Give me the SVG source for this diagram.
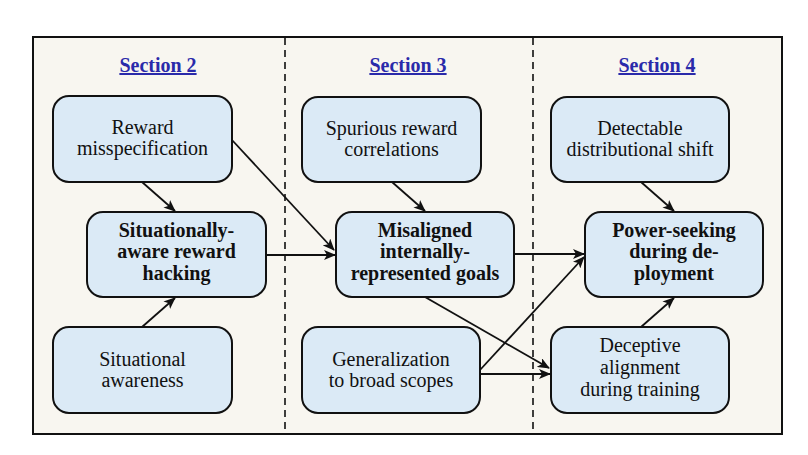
<svg xmlns="http://www.w3.org/2000/svg" width="808" height="455" viewBox="0 0 808 455">
<style>
.node rect{fill:#dbeaf6;stroke:#111;stroke-width:2}
.node text{font-family:"Liberation Serif",Tinos,"Times New Roman",Times,"DejaVu Serif",serif;font-size:20px;fill:#111;text-anchor:middle}
.node.b text{font-weight:bold}
.title{font-family:"Liberation Serif",Tinos,"Times New Roman",Times,"DejaVu Serif",serif;font-size:20px;font-weight:bold;fill:#2a2aaa;text-anchor:middle;text-decoration:underline}
.edge{stroke:#111;stroke-width:1.8;fill:none;marker-end:url(#ah)}
.div{stroke:#111;stroke-width:1.6;stroke-dasharray:7,5}
</style>
<defs>
<marker id="ah" viewBox="0 0 12 10" refX="11" refY="5" markerWidth="12" markerHeight="10" markerUnits="userSpaceOnUse" orient="auto">
<path d="M0,0 L12,5 L0,10 L3,5 Z" fill="#111"/>
</marker>
</defs>
<rect x="0" y="0" width="808" height="455" fill="#fff"/>
<rect x="33" y="37" width="749" height="397" fill="#f8f6f0" stroke="#111" stroke-width="2"/>
<line class="div" x1="285" y1="38" x2="285" y2="433"/>
<line class="div" x1="533" y1="38" x2="533" y2="433"/>
<text class="title" x="158" y="72">Section 2</text>
<text class="title" x="408" y="72">Section 3</text>
<text class="title" x="657" y="72">Section 4</text>

<g id="reward-misspecification" class="node">
<rect x="53" y="96" width="179" height="86" rx="16"/>
<text x="142.5" y="134">Reward</text>
<text x="142.5" y="155">misspecification</text>
</g>
<g id="situationally-aware-reward-hacking" class="node b">
<rect x="87" y="212" width="179" height="85" rx="16"/>
<text x="176.5" y="237">Situationally-</text>
<text x="176.5" y="258">aware reward</text>
<text x="176.5" y="280">hacking</text>
</g>
<g id="situational-awareness" class="node">
<rect x="53" y="327" width="179" height="86" rx="16"/>
<text x="142.5" y="366">Situational</text>
<text x="142.5" y="387">awareness</text>
</g>

<g id="spurious-reward-correlations" class="node">
<rect x="302" y="97" width="179" height="85" rx="16"/>
<text x="391.5" y="135">Spurious reward</text>
<text x="391.5" y="156">correlations</text>
</g>
<g id="misaligned-goals" class="node b">
<rect x="336" y="212" width="178" height="85" rx="16"/>
<text x="425" y="237">Misaligned</text>
<text x="425" y="258">internally-</text>
<text x="425" y="280">represented goals</text>
</g>
<g id="generalization" class="node">
<rect x="302" y="327" width="178" height="86" rx="16"/>
<text x="391" y="366">Generalization</text>
<text x="391" y="387">to broad scopes</text>
</g>

<g id="detectable-distributional-shift" class="node">
<rect x="551" y="97" width="178" height="85" rx="16"/>
<text x="640" y="135">Detectable</text>
<text x="640" y="156">distributional shift</text>
</g>
<g id="power-seeking" class="node b">
<rect x="585" y="212" width="178" height="85" rx="16"/>
<text x="674" y="237">Power-seeking</text>
<text x="674" y="258">during de-</text>
<text x="674" y="280">ployment</text>
</g>
<g id="deceptive-alignment" class="node">
<rect x="551" y="327" width="178" height="86" rx="16"/>
<text x="640" y="352">Deceptive</text>
<text x="640" y="374">alignment</text>
<text x="640" y="396">during training</text>
</g>

<g id="connectors">
<line class="edge" x1="142" y1="182" x2="175" y2="211"/>
<line class="edge" x1="142" y1="327" x2="175" y2="298"/>
<line class="edge" x1="232" y1="140" x2="334" y2="250"/>
<line class="edge" x1="266" y1="255" x2="335" y2="255"/>
<line class="edge" x1="392" y1="182" x2="425" y2="211"/>
<line class="edge" x1="514" y1="254" x2="584" y2="254"/>
<line class="edge" x1="425" y1="297" x2="549" y2="368"/>
<line class="edge" x1="480" y1="370" x2="584" y2="257"/>
<line class="edge" x1="480" y1="374" x2="550" y2="374"/>
<line class="edge" x1="641" y1="182" x2="674" y2="211"/>
<line class="edge" x1="641" y1="327" x2="674" y2="298"/>
</g>
</svg>
